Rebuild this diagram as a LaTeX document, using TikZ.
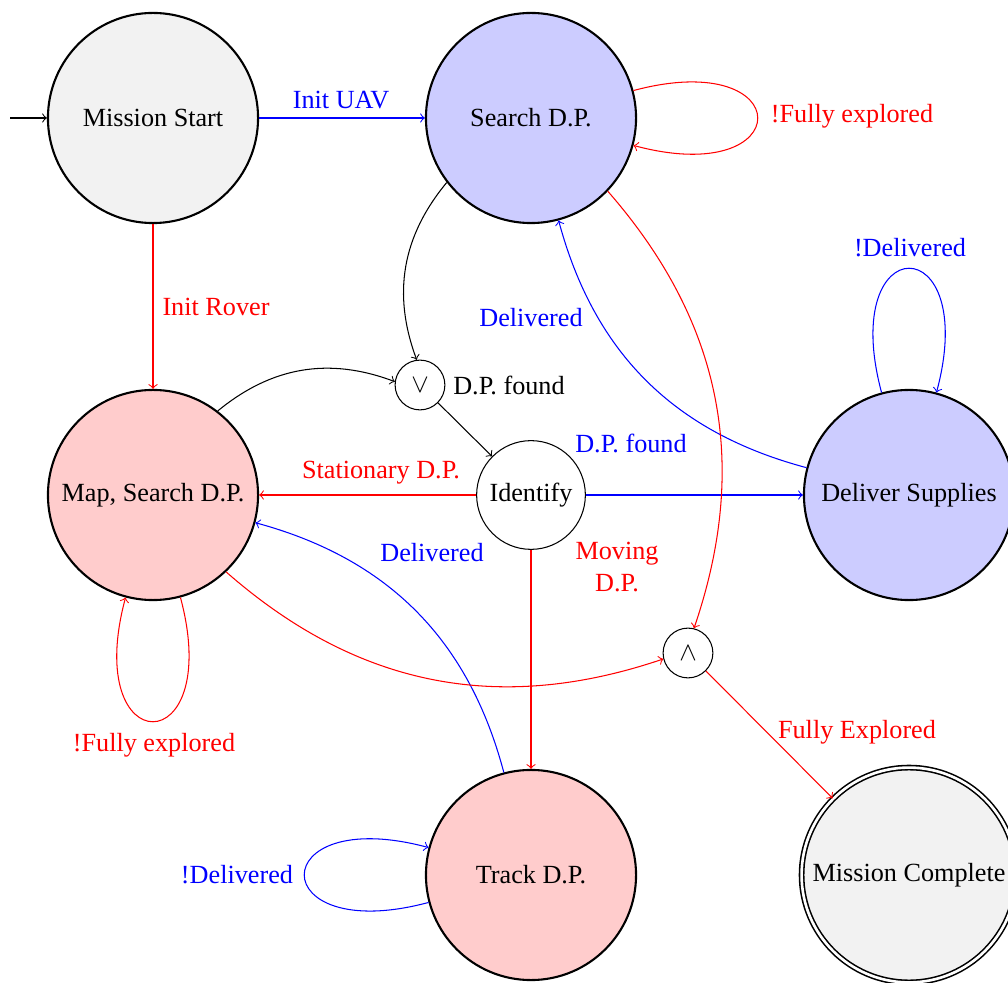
\documentclass[tikz,border=0pt]{standalone}
\usepackage{fontspec}
\setmainfont{Liberation Serif}
\usetikzlibrary{arrows}
\begin{document}
\begin{tikzpicture}[x=0.38168pt,y=-0.38168pt,
  bigstate/.style={circle,draw,thick,minimum size=80.2pt,inner sep=0pt,font=\normalsize},
  finalstate/.style={circle,draw,line width=0.6pt,double,double distance=1pt,minimum size=82pt,inner sep=0pt,fill=gray!10},
  midstate/.style={circle,draw,minimum size=41.5pt,inner sep=0pt},
  logicstate/.style={circle,draw,minimum size=19pt,inner sep=0pt},
  lbl/.style={inner sep=0pt},
  edgeb/.style={->,blue},
  edger/.style={->,red},
  edgek/.style={->,black}]
\useasboundingbox (0,0) rectangle (1008,983);

% states
\node[bigstate,fill=gray!10] (MS) at (153,118) {Mission Start};
\node[bigstate,fill=blue!20] (SD) at (531,118) {Search D.P.};
\node[bigstate,fill=red!20] (MAP) at (153,495) {Map, Search D.P.};
\node[midstate] (ID) at (531,495) {Identify};
\node[bigstate,fill=blue!20] (DS) at (909,495) {Deliver Supplies};
\node[bigstate,fill=red!20] (TR) at (531,875) {Track D.P.};
\node[finalstate] (MC) at (909,875) {Mission Complete};
\node[logicstate] (OR) at (420,385) {$\vee$};
\node[logicstate] (AND) at (688,653) {$\wedge$};
\coordinate (S0) at (10,118);

% edges
\draw[edgek] (S0) -- (MS);
\draw[edgeb] (MS) -- (SD);
\draw[edger] (MS) -- (MAP);
\draw[edger] (SD) to[loop right] (SD);
\draw[edgek] (SD) to[bend right=30] (OR);
\draw[edgek] (MAP) to[bend left=30] (OR);
\draw[edgek] (OR) -- (ID);
\draw[edger] (ID) -- (MAP);
\draw[edgeb] (ID) -- (DS);
\draw[edger] (ID) -- (TR);
\draw[edgeb] (DS) to[bend left=30] (SD);
\draw[edgeb] (DS) to[loop above] (DS);
\draw[edgeb] (TR) to[bend right=30] (MAP);
\draw[edgeb] (TR) to[loop left] (TR);
\draw[edger] (MAP) to[loop below] (MAP);
\draw[edger] (MAP) to[bend right=30] (AND);
\draw[edger] (SD) to[bend left=30] (AND);
\draw[edger] (AND) -- (MC);

% labels
\node[lbl,blue] (l1) at (341,100) {Init UAV};
\node[lbl,red] (l2) at (216,307) {Init Rover};
\node[lbl,red] (l3) at (852,116) {!Fully explored};
\node[lbl] (l4) at (509,385) {D.P. found};
\node[lbl,blue] (l5) at (531,318) {Delivered};
\node[lbl,blue] (l6) at (910,248) {!Delivered};
\node[lbl,blue] (l7) at (631,443) {D.P. found};
\node[lbl,red] (l8) at (381,473) {Stationary D.P.};
\node[lbl,blue] (l9) at (432,553) {Delivered};
\node[lbl,red,align=center] (l10) at (617,567) {Moving\\D.P.};
\node[lbl,red] (l11) at (154,745) {!Fully explored};
\node[lbl,blue] (l12) at (237,875) {!Delivered};
\node[lbl,red] (l13) at (857,732) {Fully Explored};
\end{tikzpicture}
\end{document}
